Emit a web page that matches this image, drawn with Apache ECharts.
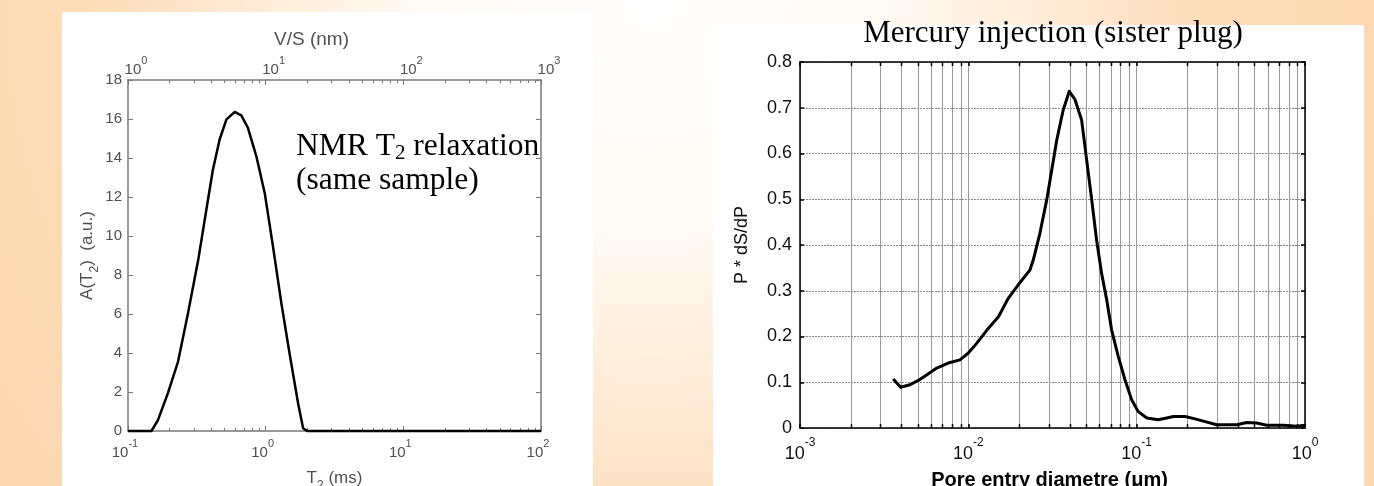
<!DOCTYPE html>
<html>
<head>
<meta charset="utf-8">
<script src="https://cdn.jsdelivr.net/npm/echarts@6/dist/echarts.min.js"></script>
<style>
html,body{margin:0;padding:0;background:#fff;}
#chart{width:1374px;height:486px;}
</style>
</head>
<body>
<div id="chart"></div>
<script>
// ---------- Left panel: NMR T2 relaxation distribution ----------
const t2Values    = [0.1, 0.148, 0.165, 0.195, 0.231, 0.273, 0.324, 0.371, 0.414, 0.463, 0.519, 0.596, 0.665, 0.743, 0.855, 0.984, 1.13, 1.30, 1.49, 1.72, 1.87, 2.0, 100];
const t2Amplitude = [0, 0, 0.56, 1.94, 3.56, 6.05, 8.79, 11.36, 13.41, 14.95, 15.98, 16.36, 16.19, 15.55, 14.1, 12.21, 9.47, 6.56, 3.99, 1.42, 0.14, 0, 0];
const t2MajorTicks = [0.1, 1, 10, 100];
const t2TickExponents = ['-1', '0', '1', '2'];
const t2MinorTicks = [0.2,0.3,0.4,0.5,0.6,0.7,0.8,0.9, 2,3,4,5,6,7,8,9, 20,30,40,50,60,70,80,90];
const vsMajorTicks = [1, 10, 100, 1000];
const vsTickExponents = ['0', '1', '2', '3'];
const vsMinorTicks = [2,3,4,5,6,7,8,9, 20,30,40,50,60,70,80,90, 200,300,400,500,600,700,800,900];
const aTicks = [0, 2, 4, 6, 8, 10, 12, 14, 16, 18];

// ---------- Right panel: Mercury injection ----------
const poreDiameter = [0.00358, 0.00396, 0.00450, 0.00504, 0.00565, 0.00649, 0.00760, 0.00891, 0.0100, 0.0112, 0.0129, 0.0151, 0.0173, 0.0198, 0.0232, 0.0243, 0.0266, 0.0292, 0.0313, 0.0335, 0.0366, 0.0398, 0.0430, 0.0471, 0.0505, 0.0541, 0.0578, 0.0619, 0.0664, 0.0710, 0.0778, 0.0853, 0.0933, 0.102, 0.115, 0.134, 0.151, 0.165, 0.194, 0.222, 0.255, 0.299, 0.393, 0.451, 0.516, 0.592, 0.743, 0.893, 1.0];
const pdSdP        = [0.107, 0.089, 0.0945, 0.104, 0.116, 0.131, 0.142, 0.149, 0.164, 0.185, 0.214, 0.243, 0.284, 0.313, 0.345, 0.367, 0.425, 0.498, 0.564, 0.629, 0.695, 0.736, 0.718, 0.673, 0.585, 0.498, 0.411, 0.338, 0.28, 0.214, 0.156, 0.105, 0.062, 0.036, 0.022, 0.018, 0.022, 0.025, 0.025, 0.020, 0.014, 0.007, 0.007, 0.012, 0.011, 0.006, 0.006, 0.004, 0.006];
const poreMajorTicks = [0.001, 0.01, 0.1, 1];
const poreTickExponents = ['-3', '-2', '-1', '0'];
const poreMinorTicks = [0.002,0.003,0.004,0.005,0.006,0.007,0.008,0.009, 0.02,0.03,0.04,0.05,0.06,0.07,0.08,0.09, 0.2,0.3,0.4,0.5,0.6,0.7,0.8,0.9];
const pTicks = [0, 0.1, 0.2, 0.3, 0.4, 0.5, 0.6, 0.7, 0.8];

const SANS = 'Liberation Sans, Arial, Helvetica, sans-serif';
const SERIF = 'Liberation Serif, Times New Roman, serif';
const GRAY = '#505050';
const AXGRAY = '#7a7a7a';

function expFormatter(ticks, exps) {
  return function (v) {
    const i = ticks.findIndex(t => Math.abs(Math.log10(t) - Math.log10(v)) < 1e-6);
    return i < 0 ? '' : '{b|10}{s|' + exps[i] + '}';
  };
}
function crisp(x) { return Math.round(x) + 0.5; }

const leftRich = {
  b: {fontFamily: SANS, fontSize: 15, lineHeight: 22, verticalAlign: 'bottom', color: GRAY},
  s: {fontFamily: SANS, fontSize: 11, verticalAlign: 'top', color: GRAY}
};
const rightRich = {
  b: {fontFamily: SANS, fontSize: 18, lineHeight: 26, verticalAlign: 'bottom', color: '#111'},
  s: {fontFamily: SANS, fontSize: 12, verticalAlign: 'top', color: '#111'}
};

const chart = echarts.init(document.getElementById('chart'), null, {renderer: 'canvas'});

const option = {
  animation: false,
  graphic: {
    elements: [
      {type: 'rect', z: -20, silent: true, shape: {x: 0, y: 0, width: 1374, height: 486},
        style: {fill: {type: 'radial', x: 650, y: 0, r: 780, global: true,
          colorStops: [{offset: 0, color: '#ffffff'}, {offset: 0.3, color: '#fffaf4'}, {offset: 0.72, color: '#fddcb8'}, {offset: 1, color: '#fcd8b1'}]}}},
      {type: 'rect', z: -10, silent: true, shape: {x: 62, y: 12, width: 531, height: 474}, style: {fill: '#ffffff'}},
      {type: 'rect', z: -10, silent: true, shape: {x: 713, y: 25, width: 651, height: 461}, style: {fill: '#ffffff'}},
      {type: 'text', z: 10, x: 1053, y: 34, silent: true,
        style: {text: 'Mercury injection (sister plug)', fontFamily: SERIF, fontSize: 31, fill: '#000', align: 'center', verticalAlign: 'middle'}},
      {type: 'text', z: 10, x: 296, y: 130, silent: true,
        style: {text: '{a|NMR T}{s|2}{a| relaxation}\n{a|(same sample)}',
          rich: {
            a: {fontFamily: SERIF, fontSize: 31.5, lineHeight: 34, verticalAlign: 'middle', fill: '#000'},
            s: {fontFamily: SERIF, fontSize: 21, verticalAlign: 'bottom', fill: '#000'}
          }}}
    ]
  },
  grid: [
    {left: 128, top: 80, width: 413, height: 351, outerBoundsMode: 'none', containLabel: false},
    {left: 800, top: 62, width: 505, height: 366, outerBoundsMode: 'none', containLabel: false}
  ],
  xAxis: [
    { // left bottom: T2 (ms)
      gridIndex: 0, type: 'log', logBase: 10, min: 0.1, max: 100, position: 'bottom',
      name: '{n|T}{u|2}{n| (ms)}', nameLocation: 'middle', nameGap: 39, nameMoveOverlap: false,
      nameTextStyle: {rich: {
        n: {fontFamily: SANS, fontSize: 17, lineHeight: 22, verticalAlign: 'top', color: GRAY},
        u: {fontFamily: SANS, fontSize: 12, verticalAlign: 'bottom', color: GRAY}}},
      axisLine: {show: true, onZero: false, lineStyle: {color: AXGRAY, width: 1.5}},
      axisTick: {show: true, inside: true, length: 5, lineStyle: {color: AXGRAY, width: 1}},
      axisLabel: {margin: 7, formatter: expFormatter(t2MajorTicks, t2TickExponents), rich: leftRich, hideOverlap: false, padding: [0, 6, 0, 0]},
      splitLine: {show: false}, minorTick: {show: false}
    },
    { // left top: V/S (nm)
      gridIndex: 0, type: 'log', logBase: 10, min: 1, max: 1000, position: 'top',
      name: 'V/S (nm)', nameLocation: 'middle', nameGap: 31, nameMoveOverlap: false,
      nameTextStyle: {fontFamily: SANS, fontSize: 19, color: GRAY, padding: [0, 46, 0, 0]},
      axisLine: {show: true, onZero: false, lineStyle: {color: AXGRAY, width: 1.5}},
      axisTick: {show: true, inside: true, length: 5, lineStyle: {color: AXGRAY, width: 1}},
      axisLabel: {margin: 3, formatter: expFormatter(vsMajorTicks, vsTickExponents), rich: leftRich, hideOverlap: false, padding: [0, 0, 0, 16]},
      splitLine: {show: false}, minorTick: {show: false}
    },
    { // right bottom: pore entry diameter
      gridIndex: 1, type: 'log', logBase: 10, min: 0.001, max: 1, position: 'bottom',
      name: 'Pore entry diametre (\u03bcm)', nameLocation: 'middle', nameGap: 42, nameMoveOverlap: false,
      nameTextStyle: {fontFamily: SANS, fontSize: 20, fontWeight: 'bold', color: '#000', padding: [0, 6, 0, 0]},
      axisLine: {show: true, onZero: false, lineStyle: {color: '#000', width: 1.5}},
      axisTick: {show: true, inside: true, length: 4, lineStyle: {color: '#000', width: 1.5}},
      axisLabel: {margin: 9, formatter: expFormatter(poreMajorTicks, poreTickExponents), rich: rightRich, hideOverlap: false},
      splitLine: {show: true, lineStyle: {color: '#9a9a9a', width: 1}}, minorTick: {show: false}
    },
    { // right top mirror
      gridIndex: 1, type: 'log', logBase: 10, min: 0.001, max: 1, position: 'top',
      axisLine: {show: true, onZero: false, lineStyle: {color: '#000', width: 1.5}},
      axisTick: {show: true, inside: true, length: 4, lineStyle: {color: '#000', width: 1.5}},
      axisLabel: {show: false}, splitLine: {show: false}
    }
  ],
  yAxis: [
    {
      gridIndex: 0, type: 'value', min: aTicks[0], max: aTicks[aTicks.length - 1], interval: 2, position: 'left',
      name: '{n|A(T}{u|2}{n|)  (a.u.)}', nameLocation: 'middle', nameGap: 27, nameRotate: 90, nameMoveOverlap: false,
      nameTextStyle: {rich: {
        n: {fontFamily: SANS, fontSize: 17, lineHeight: 22, verticalAlign: 'top', color: GRAY},
        u: {fontFamily: SANS, fontSize: 12, verticalAlign: 'bottom', color: GRAY}}},
      axisLine: {show: true, onZero: false, lineStyle: {color: AXGRAY, width: 1.5}},
      axisTick: {show: true, inside: true, length: 5, lineStyle: {color: AXGRAY, width: 1}},
      axisLabel: {margin: 6, fontFamily: SANS, fontSize: 15, color: GRAY},
      splitLine: {show: false}
    },
    {
      gridIndex: 0, type: 'value', min: aTicks[0], max: aTicks[aTicks.length - 1], interval: 2, position: 'right',
      axisLine: {show: true, onZero: false, lineStyle: {color: AXGRAY, width: 1.5}},
      axisTick: {show: true, inside: true, length: 5, lineStyle: {color: AXGRAY, width: 1}},
      axisLabel: {show: false}, splitLine: {show: false}
    },
    {
      gridIndex: 1, type: 'value', min: pTicks[0], max: pTicks[pTicks.length - 1], interval: 0.1, position: 'left',
      name: 'P * dS/dP', nameLocation: 'middle', nameGap: 49, nameRotate: 90, nameMoveOverlap: false,
      nameTextStyle: {fontFamily: SANS, fontSize: 18, color: '#111'},
      axisLine: {show: true, onZero: false, lineStyle: {color: '#000', width: 1.5}},
      axisTick: {show: true, inside: true, length: 4, lineStyle: {color: '#000', width: 1.5}},
      axisLabel: {margin: 8, fontFamily: SANS, fontSize: 18, color: '#111'},
      splitLine: {show: true, lineStyle: {color: '#8a8a8a', width: 1, type: [2, 1]}}
    },
    {
      gridIndex: 1, type: 'value', min: pTicks[0], max: pTicks[pTicks.length - 1], interval: 0.1, position: 'right',
      axisLine: {show: true, onZero: false, lineStyle: {color: '#000', width: 1.5}},
      axisTick: {show: true, inside: true, length: 4, lineStyle: {color: '#000', width: 1.5}},
      axisLabel: {show: false}, splitLine: {show: false}
    }
  ],
  series: [
    { // left minor ticks on T2 axis (bottom)
      type: 'custom', xAxisIndex: 0, yAxisIndex: 0, silent: true, z: 1, clip: false,
      data: t2MinorTicks.map(v => [v, aTicks[0]]),
      renderItem: function (params, api) {
        const p = api.coord([api.value(0), aTicks[0]]);
        const x = crisp(p[0]);
        return {type: 'line', shape: {x1: x, y1: p[1], x2: x, y2: p[1] - 3}, style: {stroke: AXGRAY, lineWidth: 1}};
      }
    },
    { // left minor ticks on V/S axis (top)
      type: 'custom', xAxisIndex: 1, yAxisIndex: 0, silent: true, z: 1, clip: false,
      data: vsMinorTicks.map(v => [v, aTicks[aTicks.length - 1]]),
      renderItem: function (params, api) {
        const p = api.coord([api.value(0), aTicks[aTicks.length - 1]]);
        const x = crisp(p[0]);
        return {type: 'line', shape: {x1: x, y1: p[1], x2: x, y2: p[1] + 3}, style: {stroke: AXGRAY, lineWidth: 1}};
      }
    },
    { // NMR curve
      type: 'line', xAxisIndex: 0, yAxisIndex: 0, z: 3, silent: true,
      data: t2Values.map((v, i) => [v, t2Amplitude[i]]),
      showSymbol: false, symbol: 'none', smooth: false, clip: false,
      lineStyle: {color: '#000', width: 2.5, join: 'round'}
    },
    { // right minor grid lines + ticks
      type: 'custom', xAxisIndex: 2, yAxisIndex: 2, silent: true, z: 1, clip: false,
      data: poreMinorTicks.map(v => [v, pTicks[0]]),
      renderItem: function (params, api) {
        const b = api.coord([api.value(0), pTicks[0]]);
        const t = api.coord([api.value(0), pTicks[pTicks.length - 1]]);
        const x = crisp(b[0]);
        return {type: 'group', children: [
          {type: 'line', shape: {x1: x, y1: b[1], x2: x, y2: t[1]}, style: {stroke: '#9a9a9a', lineWidth: 1}},
          {type: 'line', shape: {x1: x, y1: b[1], x2: x, y2: b[1] - 4}, style: {stroke: '#000', lineWidth: 1.5}},
          {type: 'line', shape: {x1: x, y1: t[1], x2: x, y2: t[1] + 4}, style: {stroke: '#000', lineWidth: 1.5}}
        ]};
      }
    },
    { // mercury injection curve
      type: 'line', xAxisIndex: 2, yAxisIndex: 2, z: 3, silent: true,
      data: poreDiameter.map((v, i) => [v, pdSdP[i]]),
      showSymbol: false, symbol: 'none', smooth: false, clip: false,
      lineStyle: {color: '#000', width: 3, join: 'round'}
    }
  ]
};

chart.setOption(option);
</script>
</body>
</html>
